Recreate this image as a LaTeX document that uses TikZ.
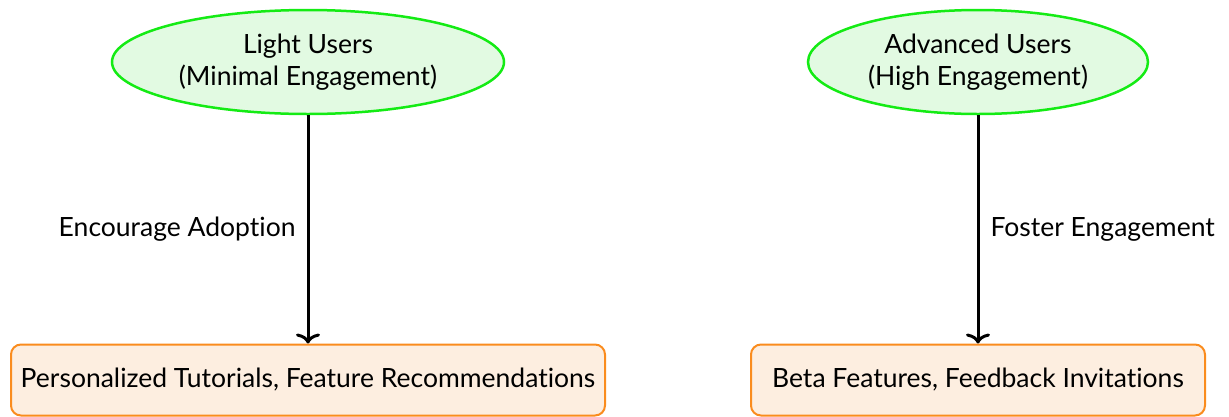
\documentclass[tikz,border=0pt]{standalone}
\usepackage{fontspec}
\setmainfont[Ligatures=NoCommon]{Lato}
\usetikzlibrary{shapes.geometric,arrows.meta}
\definecolor{usergreen}{RGB}{20,235,20}
\definecolor{userfill}{RGB}{226,250,226}
\definecolor{actorange}{RGB}{250,140,30}
\definecolor{actfill}{RGB}{253,238,224}
\begin{document}
\begin{tikzpicture}[x=1pt,y=-1pt,
  font=\fontsize{26.5}{32}\selectfont,
  usernode/.style={ellipse, draw=usergreen, fill=userfill, line width=2.5pt,
    align=center, inner sep=0pt, minimum height=104pt},
  actionbox/.style={rectangle, rounded corners=10pt, draw=actorange, fill=actfill,
    line width=2pt, align=center, inner sep=0pt, minimum height=71pt},
  flow/.style={line width=3pt, -{To[length=10pt,width=24pt,line width=3pt]}},
  flowlabel/.style={inner sep=0pt}]
  \useasboundingbox (0,0) rectangle (1229,416);
  \node[usernode, minimum width=392pt] (light) at (308,62) {Light Users\\(Minimal Engagement)};
  \node[usernode, minimum width=340pt] (adv) at (978,62) {Advanced Users\\(High Engagement)};
  \node[actionbox, minimum width=594pt] (tut) at (308,380) {\raisebox{-2pt}{Personalized Tutorials, Feature Recommendations}};
  \node[actionbox, minimum width=454pt] (beta) at (978,380) {\raisebox{-2pt}{Beta Features, Feedback Invitations}};
  \draw[flow] (light) -- node[flowlabel, anchor=east, xshift=-11pt] {Encourage Adoption} (tut);
  \draw[flow] (adv) -- node[flowlabel, anchor=west, xshift=11pt] {Foster Engagement} (beta);
\end{tikzpicture}
\end{document}
